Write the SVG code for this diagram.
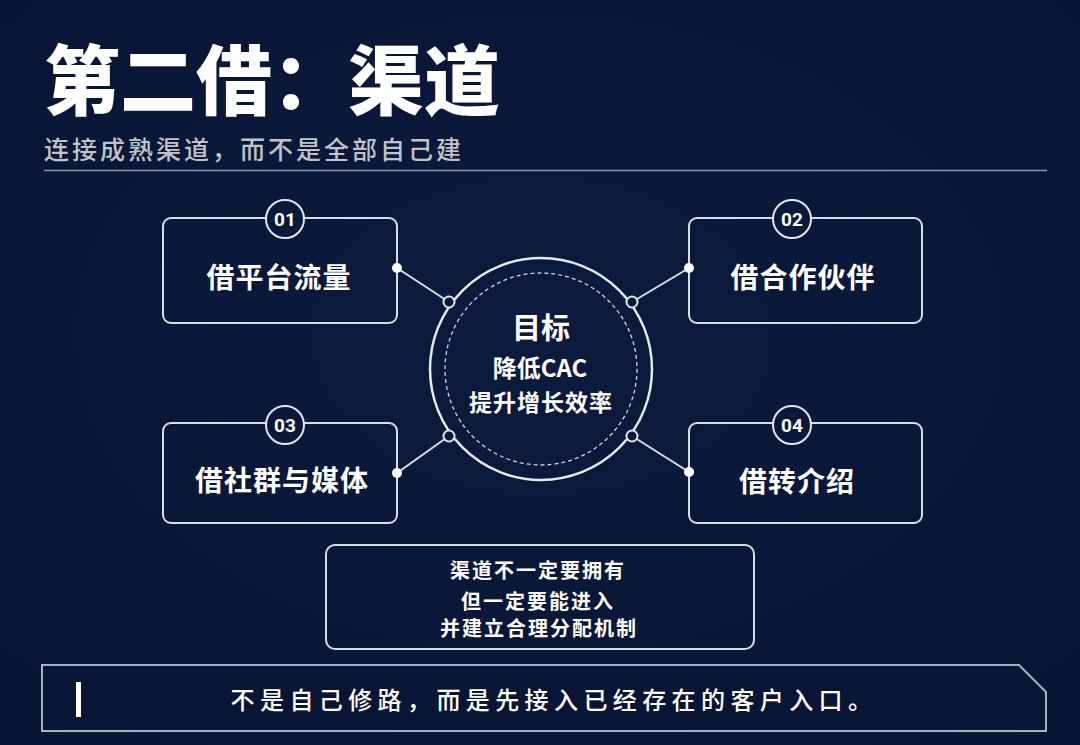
<svg xmlns="http://www.w3.org/2000/svg" width="1080" height="745" viewBox="0 0 1080 745">
  <defs>
    <radialGradient id="bg" cx="50%" cy="45%" r="75%">
      <stop offset="0" stop-color="#0c1a3d"/>
      <stop offset="1" stop-color="#081432"/>
    </radialGradient>
  </defs>
  <style>
    text { font-family: "Noto Sans CJK SC", "Noto Sans", sans-serif; fill: #ffffff; }
    .box { fill: none; stroke: #d9dde6; stroke-width: 2; }
    .badge { fill: #0a1839; stroke: #e3e6ee; stroke-width: 2; }
    .num { font-family: Roboto, "Noto Sans", sans-serif; font-weight: 700; font-size: 19px; text-anchor: middle; }
    .label { font-weight: 700; font-size: 28px; text-anchor: middle; letter-spacing: 1px; }
    .conn { stroke: #d9dde6; stroke-width: 2; fill: none; }
    .dot { fill: #ffffff; }
    .ring { fill: #0a1839; stroke: #e3e6ee; stroke-width: 2; }
    .note { font-weight: 700; font-size: 20px; text-anchor: middle; letter-spacing: 2px; }
  </style>
  <rect x="0" y="0" width="1080" height="745" fill="url(#bg)"/>

  <g id="header">
    <text x="44" y="109" font-size="76" font-weight="900">第二借：渠道</text>
    <text x="44" y="159" font-size="25" font-weight="500" letter-spacing="3" style="fill:#bfc3cc">连接成熟渠道，而不是全部自己建</text>
    <line x1="44" y1="170.5" x2="1047" y2="170.5" stroke="#8c93a3" stroke-width="1.5"/>
  </g>

  <g id="connectors">
    <line class="conn" x1="397" y1="268" x2="449" y2="302"/>
    <line class="conn" x1="689" y1="268" x2="632" y2="302"/>
    <line class="conn" x1="397" y1="473" x2="449" y2="436"/>
    <line class="conn" x1="689" y1="472" x2="632" y2="436"/>
  </g>

  <g id="goal">
    <circle cx="541" cy="369" r="111" fill="none" stroke="#e6e9f0" stroke-width="2.5"/>
    <circle cx="541" cy="369" r="96" fill="none" stroke="#cfd4de" stroke-width="1.3" stroke-dasharray="4 3"/>
    <text x="541" y="339" font-size="29" font-weight="700" text-anchor="middle">目标</text>
    <text x="540" y="377" font-size="24" font-weight="700" text-anchor="middle">降低CAC</text>
    <text x="541" y="411" font-size="23" font-weight="700" text-anchor="middle" letter-spacing="1">提升增长效率</text>
    <circle class="ring" cx="449" cy="302" r="5.5"/>
    <circle class="ring" cx="632" cy="302" r="5.5"/>
    <circle class="ring" cx="449" cy="436" r="5.5"/>
    <circle class="ring" cx="632" cy="436" r="5.5"/>
  </g>

  <g id="node1">
    <rect class="box" x="163" y="218" width="234" height="105" rx="8"/>
    <circle class="badge" cx="285" cy="219" r="19"/>
    <text class="num" x="285" y="226">01</text>
    <text class="label" x="279" y="288">借平台流量</text>
    <circle class="dot" cx="397" cy="268" r="5"/>
  </g>

  <g id="node2">
    <rect class="box" x="689" y="218" width="233" height="105" rx="8"/>
    <circle class="badge" cx="792" cy="219" r="19"/>
    <text class="num" x="792" y="226">02</text>
    <text class="label" x="803" y="288">借合作伙伴</text>
    <circle class="dot" cx="689" cy="268" r="5"/>
  </g>

  <g id="node3">
    <rect class="box" x="163" y="423" width="234" height="100" rx="8"/>
    <circle class="badge" cx="285" cy="425" r="19"/>
    <text class="num" x="285" y="432">03</text>
    <text class="label" x="282" y="491">借社群与媒体</text>
    <circle class="dot" cx="397" cy="473" r="5"/>
  </g>

  <g id="node4">
    <rect class="box" x="689" y="423" width="233" height="100" rx="8"/>
    <circle class="badge" cx="792" cy="425" r="19"/>
    <text class="num" x="792" y="432">04</text>
    <text class="label" x="797" y="492">借转介绍</text>
    <circle class="dot" cx="689" cy="472" r="5"/>
  </g>

  <g id="note">
    <rect class="box" x="326" y="545" width="428" height="104" rx="9" stroke-width="1.8"/>
    <text class="note" x="538" y="578">渠道不一定要拥有</text>
    <text class="note" x="538" y="609">但一定要能进入</text>
    <text class="note" x="539" y="636">并建立合理分配机制</text>
  </g>

  <g id="banner">
    <polygon points="42,665 1019,665 1046,692 1046,731 42,731" fill="#091534" stroke="#aab0bd" stroke-width="2"/>
    <rect x="76" y="682" width="5" height="35" fill="#ffffff"/>
    <text x="554" y="709" font-size="24" font-weight="500" text-anchor="middle" letter-spacing="5.4">不是自己修路，而是先接入已经存在的客户入口。</text>
  </g>
</svg>
